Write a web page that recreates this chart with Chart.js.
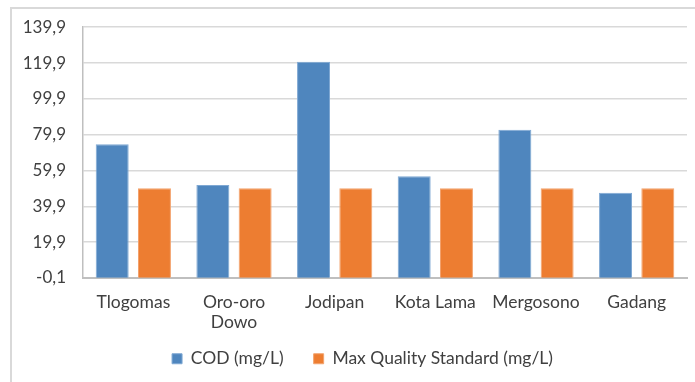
<!DOCTYPE html>
<html>
<head>
<meta charset="utf-8">
<script src="https://cdn.jsdelivr.net/npm/chart.js@4/dist/chart.umd.min.js"></script>
<style>
  html, body { margin: 0; padding: 0; background: #fff; }
  #wrap { position: relative; width: 695px; height: 382px; overflow: hidden; }
  #frame { position: absolute; left: 10px; top: 7px; right: -10px; bottom: 0;
           border-left: 2px solid #d9d9d9; border-top: 2px solid #d9d9d9; pointer-events: none; }
  canvas { position: absolute; left: 0; top: 0; }
</style>
</head>
<body>
<div id="wrap">
  <canvas id="chart" width="695" height="382"></canvas>
  <div id="frame"></div>
</div>
<script>
// Sampling sites along the river
const sites = ['Tlogomas', ['Oro-oro', 'Dowo'], 'Jodipan', 'Kota Lama', 'Mergosono', 'Gadang'];
// Measured COD (mg/L)
const codValues = [74.5, 51.8, 120.6, 56.7, 82.7, 47.5];
// Maximum quality standard (mg/L)
const maxStandard = [50, 50, 50, 50, 50, 50];
// Value-axis ticks
const yTicks = [-0.1, 19.9, 39.9, 59.9, 79.9, 99.9, 119.9, 139.9];

const fontFamily = 'Lato, "Open Sans", sans-serif';
const textColor = '#404040';

// After layout: let the two-line category labels run below the axis box,
// and centre the legend under the whole frame rather than the canvas.
const layoutTweaks = {
  id: 'layoutTweaks',
  afterLayout(chart) {
    chart.scales.x.bottom = chart.height;
    const lg = chart.legend;
    lg.left += 19;
    lg.right += 19;
  }
};

new Chart(document.getElementById('chart'), {
  type: 'bar',
  data: {
    labels: sites,
    datasets: [
      {
        label: 'COD (mg/L)',
        data: codValues,
        backgroundColor: '#4F86BE',
        borderColor: '#7FA8D3',
        borderWidth: 1,
        categoryPercentage: 0.84,
        barPercentage: 0.78
      },
      {
        label: 'Max Quality Standard (mg/L)',
        data: maxStandard,
        backgroundColor: '#ED7D31',
        borderColor: '#F3A36E',
        borderWidth: 1,
        categoryPercentage: 0.84,
        barPercentage: 0.78
      }
    ]
  },
  options: {
    responsive: false,
    animation: false,
    devicePixelRatio: 1,
    layout: { padding: { left: 0, right: 8, top: 27, bottom: 4.5 } },
    scales: {
      x: {
        grid: { display: false, drawTicks: false },
        border: { display: true, color: '#BFBFBF', width: 2 },
        ticks: {
          color: textColor,
          padding: 14,
          maxRotation: 0,
          autoSkip: false,
          font: { family: fontFamily, size: 17.5, lineHeight: 1.14 }
        },
        afterFit(scale) { scale.height = 42; }
      },
      y: {
        min: yTicks[0],
        max: yTicks[yTicks.length - 1],
        afterBuildTicks(scale) { scale.ticks = yTicks.map(v => ({ value: v })); },
        grid: { color: '#D9D9D9', lineWidth: 1.5, drawTicks: false },
        border: { display: true, color: '#BFBFBF', width: 1.5 },
        ticks: {
          color: textColor,
          padding: 17,
          font: { family: fontFamily, size: 17 },
          callback: v => Number(v).toFixed(1).replace('.', ',')
        },
        afterFit(scale) { scale.width = 83; }
      }
    },
    plugins: {
      legend: {
        position: 'bottom',
        labels: {
          boxWidth: 10,
          boxHeight: 10,
          padding: 30,
          color: textColor,
          font: { family: fontFamily, size: 17.5 }
        }
      },
      tooltip: { enabled: false }
    }
  },
  plugins: [layoutTweaks]
});
</script>
</body>
</html>
